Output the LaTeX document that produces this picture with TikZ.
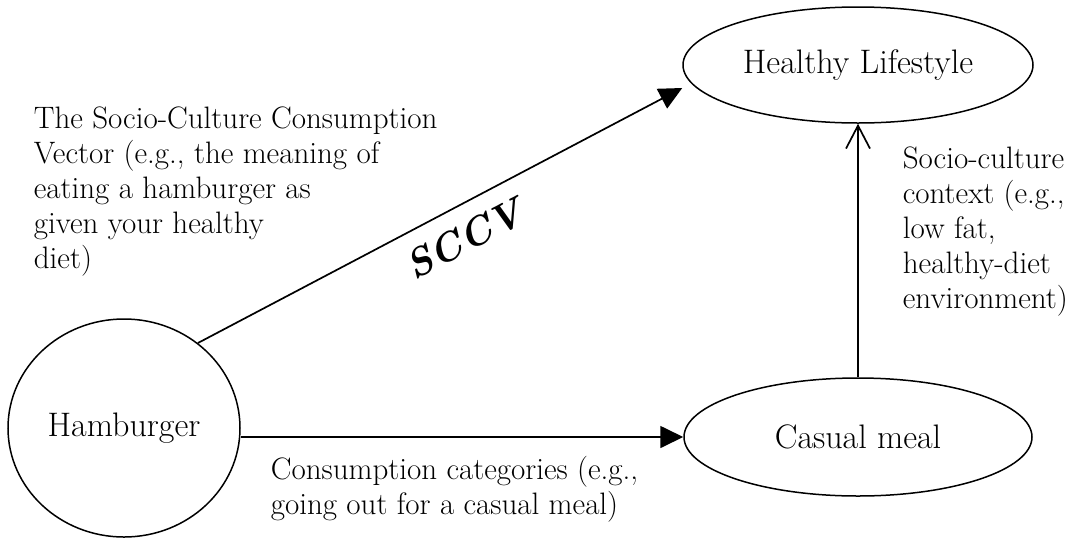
\documentclass[tikz,border=0pt]{standalone}
\usepackage{tikz}
\usetikzlibrary{positioning,shapes.geometric,arrows.meta}

\begin{document}
\begin{tikzpicture}[x=0.5pt, y=0.5pt, >={Triangle[length=11.5pt,width=11pt]}, line width=0.85pt]
    \tikzset{concept/.style={draw, ellipse, line width=0.75pt, inner sep=0pt, font=\fontsize{17}{20}\selectfont},
             note/.style={align=left, inner sep=0pt, font=\fontsize{15.5}{17.5}\selectfont}}
    \useasboundingbox (0,0) rectangle (1076,538);

    % Nodes
    \node[concept, minimum width=116pt, minimum height=109pt] (burger)    at (124,110) {Hamburger};
    \node[concept, minimum width=175pt, minimum height=58pt]  (lifestyle) at (858,473) {Healthy Lifestyle};
    \node[concept, minimum width=174pt, minimum height=59pt]  (meal)      at (858,101) {Casual meal};

    % Labels
    \node[note, anchor=north west] (sccvnote)     at (33,432)  {The Socio-Culture Consumption\\Vector (e.g., the meaning of\\eating a hamburger as\\given your healthy\\diet)};
    \node[note, anchor=north west] (contextnote)  at (902,392) {Socio-culture\\context (e.g.,\\low fat,\\healthy-diet\\environment)};
    \node[note, anchor=north west] (categorynote) at (270,83)  {Consumption categories (e.g.,\\going out for a casual meal)};

    % Arrows
    \draw[->] (burger.49) -- node[sloped, pos=0.52, below=5pt, font=\fontsize{20}{20}\selectfont\bfseries\itshape] (sccv) {SCCV} ([yshift=-11.5pt]lifestyle.west);
    \draw[->] (burger.east |- meal.west) -- (meal.west);
    \draw[-{Straight Barb[length=11.5pt,width=12pt]}] (meal.north) -- (lifestyle.south);
\end{tikzpicture}
\end{document}
